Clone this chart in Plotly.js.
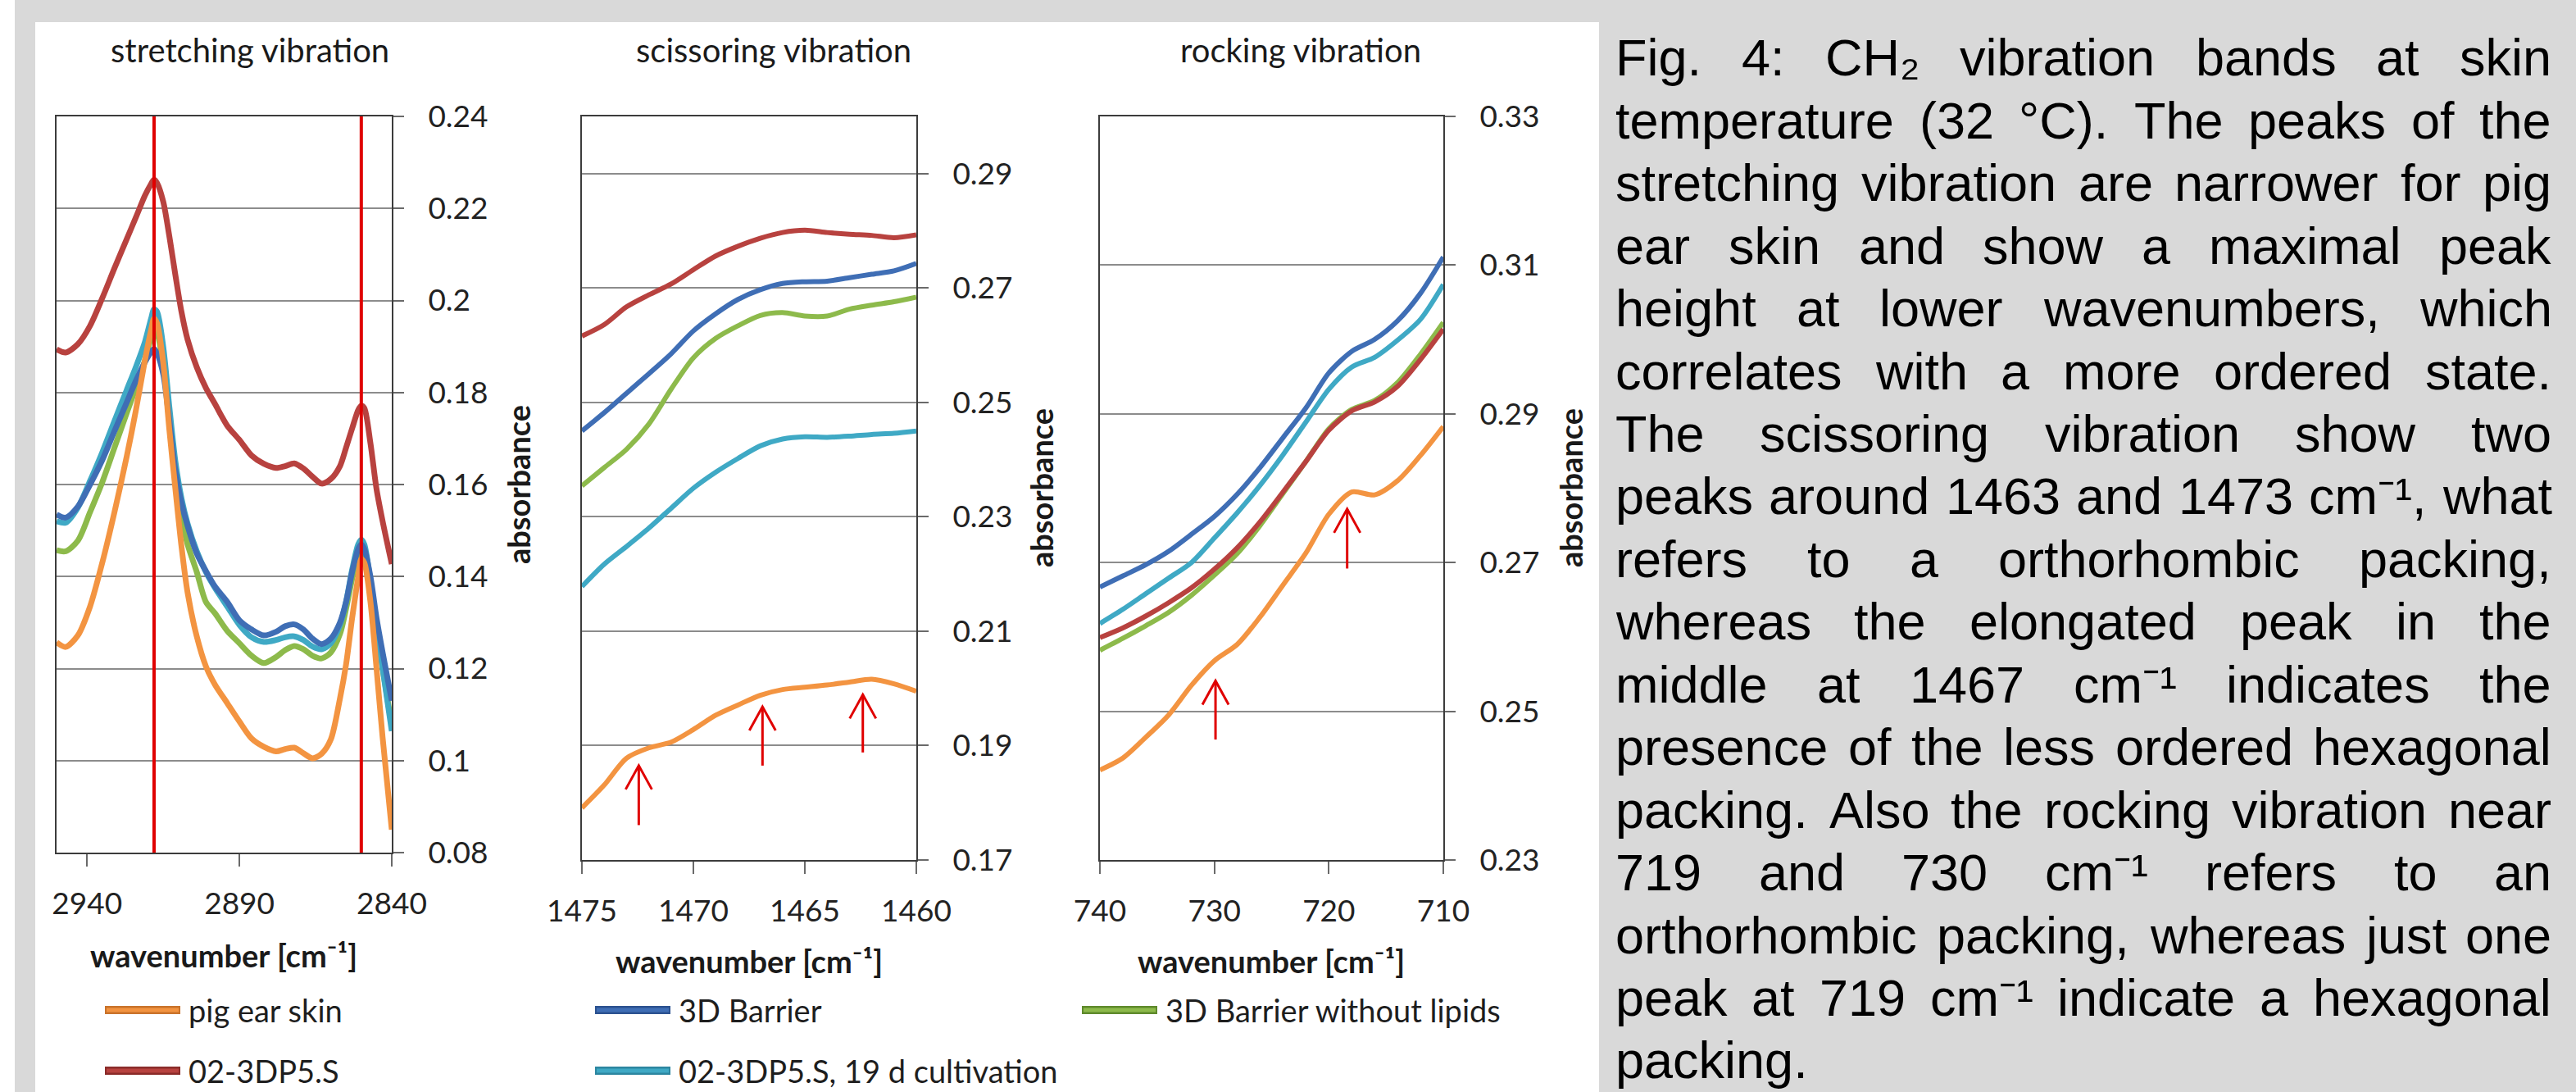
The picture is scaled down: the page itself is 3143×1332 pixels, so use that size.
<!DOCTYPE html>
<html><head><meta charset="utf-8">
<script src="https://cdn.plot.ly/plotly-3.0.1.min.js"></script>
<style>html,body{margin:0;padding:0;background:#d9d9d9;overflow:hidden}#chart{width:3143px;height:1332px}</style>
</head><body><div id="chart"></div>
<script>
// ================= DATA =================
const seriesNames = {
  pig: 'pig ear skin',
  p02: '02-3DP5.S',
  barrier: '3D Barrier',
  p19: '02-3DP5.S, 19 d cultivation',
  nolip: '3D Barrier without lipids'
};
const panelTitles = ['stretching vibration', 'scissoring vibration', 'rocking vibration'];
const xTitle = 'wavenumber [cm\u207B\u00B9]';
const yTitle = 'absorbance';

// stretching vibration (cm-1)
const stretchWavenumber = [2950,2947,2943,2939,2935,2931,2927,2924,2921,2919,2918,2917,2915,2913,2911,2909,2907,2904,2901,2898,2894,2890,2886,2882,2878,2875,2872,2869,2866,2863,2860,2857,2855,2853,2851,2850,2849,2847,2845,2843,2840];
const stretchPig     = [0.1257,0.1247,0.1272,0.1335,0.1430,0.1540,0.1660,0.1760,0.1870,0.1935,0.1961,0.1950,0.1865,0.1720,0.1590,0.1465,0.1365,0.1270,0.1205,0.1165,0.1125,0.1085,0.1048,0.1030,0.1020,0.1025,0.1028,0.1016,0.1005,0.1015,0.1046,0.1135,0.1209,0.1310,0.1400,0.1438,0.1430,0.1345,0.1200,0.1050,0.0850];
const stretch02      = [0.1894,0.1887,0.1905,0.1945,0.2005,0.2070,0.2133,0.2180,0.2228,0.2253,0.2263,0.2255,0.2215,0.2140,0.2055,0.1975,0.1915,0.1855,0.1810,0.1775,0.1728,0.1697,0.1663,0.1645,0.1636,0.1640,0.1646,0.1635,0.1617,0.1602,0.1612,0.1640,0.1680,0.1722,0.1762,0.1771,0.1766,0.1690,0.1590,0.1520,0.1427];
const stretchBarrier = [0.1535,0.1528,0.1552,0.1600,0.1653,0.1716,0.1778,0.1825,0.1866,0.1888,0.1895,0.1885,0.1840,0.1740,0.1630,0.1560,0.1510,0.1450,0.1412,0.1378,0.1345,0.1305,0.1285,0.1272,0.1280,0.1292,0.1296,0.1285,0.1265,0.1253,0.1265,0.1300,0.1345,0.1410,0.1460,0.1470,0.1460,0.1400,0.1310,0.1235,0.1130];
const stretch19d     = [0.1520,0.1517,0.1550,0.1608,0.1670,0.1738,0.1805,0.1855,0.1910,0.1960,0.1981,0.1975,0.1900,0.1770,0.1650,0.1570,0.1515,0.1455,0.1410,0.1375,0.1335,0.1295,0.1268,0.1258,0.1262,0.1268,0.1270,0.1262,0.1248,0.1242,0.1255,0.1295,0.1345,0.1415,0.1470,0.1480,0.1470,0.1390,0.1290,0.1200,0.1064];
const stretchNoLip   = [0.1457,0.1455,0.1478,0.1540,0.1605,0.1680,0.1755,0.1810,0.1870,0.1920,0.1940,0.1930,0.1860,0.1740,0.1620,0.1530,0.1470,0.1410,0.1345,0.1320,0.1282,0.1255,0.1228,0.1212,0.1225,0.1240,0.1249,0.1242,0.1228,0.1222,0.1235,0.1275,0.1330,0.1395,0.1450,0.1460,0.1450,0.1380,0.1290,0.1200,0.1075];
const stretchMarkerLines = [2918, 2850];

// scissoring vibration (cm-1)
const scissWavenumber = [1475,1474,1473,1472,1471,1470,1469,1468,1467,1466,1465,1464,1463,1462,1461,1460];
const scissPig     = [0.1791,0.1831,0.1878,0.1896,0.1906,0.1928,0.1953,0.1971,0.1988,0.1998,0.2002,0.2006,0.2011,0.2016,0.2008,0.1995];
const sciss02      = [0.2616,0.2636,0.2667,0.2688,0.2707,0.2732,0.2756,0.2773,0.2787,0.2797,0.2801,0.2797,0.2794,0.2792,0.2788,0.2793];
const scissBarrier = [0.2450,0.2482,0.2516,0.2550,0.2585,0.2625,0.2655,0.2680,0.2697,0.2708,0.2711,0.2712,0.2718,0.2724,0.2730,0.2743];
const sciss19d     = [0.2178,0.2217,0.2248,0.2280,0.2315,0.2350,0.2378,0.2402,0.2424,0.2436,0.2440,0.2439,0.2441,0.2444,0.2446,0.2450];
const scissNoLip   = [0.2354,0.2386,0.2418,0.2462,0.2523,0.2578,0.2612,0.2634,0.2652,0.2657,0.2651,0.2651,0.2663,0.2670,0.2676,0.2684];
const scissArrowWavenumber = [1472.45, 1466.9, 1462.4];
const scissArrowTail = [0.1761, 0.1865, 0.1888];
const scissArrowHead = [0.1865, 0.1968, 0.1989];

// rocking vibration (cm-1)
const rockWavenumber = [740,738,736,734,732,730,728,726,724,722,720,718,716,714,712,710];
const rockPig     = [0.2421,0.2437,0.2465,0.2495,0.2535,0.2568,0.2590,0.2627,0.2670,0.2713,0.2765,0.2795,0.2791,0.2810,0.2844,0.2883];
const rock02      = [0.2599,0.2612,0.2628,0.2646,0.2666,0.2691,0.2720,0.2755,0.2795,0.2836,0.2878,0.2904,0.2916,0.2937,0.2973,0.3014];
const rockBarrier = [0.2667,0.2682,0.2697,0.2715,0.2738,0.2762,0.2792,0.2828,0.2868,0.2908,0.2955,0.2984,0.3000,0.3025,0.3062,0.3111];
const rock19d     = [0.2618,0.2637,0.2658,0.2679,0.2700,0.2733,0.2767,0.2804,0.2845,0.2889,0.2933,0.2963,0.2976,0.2999,0.3027,0.3074];
const rockNoLip   = [0.2582,0.2598,0.2615,0.2633,0.2656,0.2683,0.2712,0.2750,0.2793,0.2836,0.2880,0.2906,0.2918,0.2942,0.2980,0.3023];
const rockArrowWavenumber = [729.9, 718.4];
const rockArrowTail = [0.2462, 0.2692];
const rockArrowHead = [0.2541, 0.2772];

// caption text
const captionLines = [
  'Fig. 4: CH\u2082 vibration bands at skin',
  'temperature (32 °C). The peaks of the',
  'stretching vibration are narrower for pig',
  'ear skin and show a maximal peak',
  'height at lower wavenumbers, which',
  'correlates with a more ordered state.',
  'The scissoring vibration show two',
  'peaks around 1463 and 1473 cm\u207B\u00B9, what',
  'refers to a orthorhombic packing,',
  'whereas the elongated peak in the',
  'middle at 1467 cm\u207B\u00B9 indicates the',
  'presence of the less ordered hexagonal',
  'packing. Also the rocking vibration near',
  '719 and 730 cm\u207B\u00B9 refers to an',
  'orthorhombic packing, whereas just one',
  'peak at 719 cm\u207B\u00B9 indicate a hexagonal',
  'packing.'
];

// ================= STYLE / LAYOUT =================
const W = 3143, H = 1332;
const fx = x => x / W, fy = y => 1 - y / H;
const FONT = 'Lato, "Open Sans", sans-serif';
const colors = {pig:'#F39441', p02:'#B8423F', barrier:'#3F6EB5', p19:'#3FA9C5', nolip:'#8DBA4B'};
const darkColors = {pig:'#C9732B', p02:'#8A2B29', barrier:'#2C5290', p19:'#2C86A0', nolip:'#5F8A2C'};
const drawOrder = ['nolip', 'p19', 'barrier', 'p02', 'pig'];

const panels = [
  {xa:'x',  ya:'y',  x: stretchWavenumber, ys:{pig:stretchPig, p02:stretch02, barrier:stretchBarrier, p19:stretch19d, nolip:stretchNoLip}, lw:7},
  {xa:'x2', ya:'y2', x: scissWavenumber,   ys:{pig:scissPig,   p02:sciss02,   barrier:scissBarrier,   p19:sciss19d,   nolip:scissNoLip},   lw:6},
  {xa:'x3', ya:'y3', x: rockWavenumber,    ys:{pig:rockPig,    p02:rock02,    barrier:rockBarrier,    p19:rock19d,    nolip:rockNoLip},    lw:6}
];

const traces = [];
panels.forEach(p => {
  drawOrder.forEach(k => {
    traces.push({
      type:'scatter', mode:'lines', name: seriesNames[k], legendgroup:k, showlegend:false,
      x: p.x, y: p.ys[k], xaxis:p.xa, yaxis:p.ya,
      line:{color: colors[k], width: p.lw, shape:'spline', smoothing:0.8}
    });
  });
});

const tickFont = {family: FONT, size: 37, color:'#222222'};
const axCommon = {
  showline:true, mirror:true, linecolor:'#3c3c3c', linewidth:2,
  ticks:'outside', tickcolor:'#6a6a6a', tickwidth:2, tickfont: tickFont,
  fixedrange:true, zeroline:false
};
const xCommon = Object.assign({}, axCommon, {showgrid:false, ticklen:15, ticklabelstandoff:14, tickmode:'linear'});
const yCommon = Object.assign({}, axCommon, {showgrid:true, gridcolor:'#8c8c8c', gridwidth:2, side:'right', ticklen:13, ticklabelstandoff:22, tickmode:'linear', dtick:0.02});

const layout = {
  width: W, height: H,
  margin: {l:0, r:0, t:0, b:0},
  paper_bgcolor:'#d9d9d9', plot_bgcolor:'#ffffff',
  showlegend:false,
  font:{family: FONT, color:'#1e1e1e'},
  xaxis:  Object.assign({}, xCommon, {domain:[fx(69), fx(478)],   range:[2950, 2840], tick0:2840, dtick:50, anchor:'y'}),
  yaxis:  Object.assign({}, yCommon, {domain:[fy(1040), fy(142)], range:[0.08, 0.24], tick0:0.08, anchor:'x'}),
  xaxis2: Object.assign({}, xCommon, {domain:[fx(710), fx(1118)],  range:[1475, 1460], tick0:1460, dtick:5, anchor:'y2'}),
  yaxis2: Object.assign({}, yCommon, {domain:[fy(1049), fy(142)], range:[0.17, 0.30], tick0:0.17, anchor:'x2'}),
  xaxis3: Object.assign({}, xCommon, {domain:[fx(1342), fx(1761)], range:[740, 710], tick0:710, dtick:10, anchor:'y3'}),
  yaxis3: Object.assign({}, yCommon, {domain:[fy(1049), fy(142)], range:[0.23, 0.33], tick0:0.23, anchor:'x3'}),
  shapes: [],
  annotations: []
};

// white chart area + left white strip
layout.shapes.push({type:'rect', xref:'paper', yref:'paper', layer:'below', x0:fx(43), x1:fx(1951), y0:0, y1:fy(27), fillcolor:'#ffffff', line:{width:0}});
layout.shapes.push({type:'rect', xref:'paper', yref:'paper', layer:'below', x0:0, x1:fx(18), y0:0, y1:1, fillcolor:'#ffffff', line:{width:0}});

// red marker lines in stretching panel
stretchMarkerLines.forEach(w => {
  layout.shapes.push({type:'line', xref:'x', yref:'y domain', x0:w, x1:w, y0:0, y1:1, line:{color:'#E00000', width:4}});
});

// red arrows (shaft + open V head), head size given in pixels and converted to data units
function perPx(ax, len) { return Math.abs(ax.range[1] - ax.range[0]) / ((ax.domain[1] - ax.domain[0]) * len); }
function addArrows(xs, tails, heads, xr, yr, xAxis, yAxis) {
  const dx = 16 * perPx(xAxis, W), dy = 29 * perPx(yAxis, H);
  xs.forEach((w, i) => {
    const h = heads[i];
    layout.shapes.push({type:'line', xref:xr, yref:yr, x0:w, x1:w, y0:tails[i], y1:h, line:{color:'#E00000', width:3}});
    layout.shapes.push({type:'path', xref:xr, yref:yr,
      path:'M' + (w - dx) + ',' + (h - dy) + ' L' + w + ',' + h + ' L' + (w + dx) + ',' + (h - dy),
      line:{color:'#E00000', width:3}});
  });
}
addArrows(scissArrowWavenumber, scissArrowTail, scissArrowHead, 'x2', 'y2', layout.xaxis2, layout.yaxis2);
addArrows(rockArrowWavenumber, rockArrowTail, rockArrowHead, 'x3', 'y3', layout.xaxis3, layout.yaxis3);

// panel titles, axis titles
const titlePos = [[305, 61], [944, 61], [1587, 61]];
const xTitlePos = [[273, 1165], [914, 1172], [1551, 1172]];
const yTitlePos = [[632, 591], [1270, 595], [1916, 595]];
panelTitles.forEach((t, i) => {
  layout.annotations.push({xref:'paper', yref:'paper', x:fx(titlePos[i][0]), y:fy(titlePos[i][1]), text:t, showarrow:false,
    xanchor:'center', yanchor:'middle', font:{family:FONT, size:40, color:'#1a1a1a'}});
  layout.annotations.push({xref:'paper', yref:'paper', x:fx(xTitlePos[i][0]), y:fy(xTitlePos[i][1]), text:xTitle, showarrow:false,
    xanchor:'center', yanchor:'middle', font:{family:FONT, size:38, color:'#1a1a1a', weight:'bold'}});
  layout.annotations.push({xref:'paper', yref:'paper', x:fx(yTitlePos[i][0]), y:fy(yTitlePos[i][1]), text:yTitle, showarrow:false,
    textangle:-90, xanchor:'center', yanchor:'middle', font:{family:FONT, size:38, color:'#1a1a1a', weight:'bold'}});
});

// manual legend (3 columns x 2 rows as in the reference)
const legendItems = [
  {k:'pig', x:128, y:1232}, {k:'barrier', x:726, y:1232}, {k:'nolip', x:1320, y:1232},
  {k:'p02', x:128, y:1306}, {k:'p19', x:726, y:1306}
];
legendItems.forEach(it => {
  layout.shapes.push({type:'line', xref:'paper', yref:'paper', x0:fx(it.x), x1:fx(it.x+92), y0:fy(it.y), y1:fy(it.y), line:{color:darkColors[it.k], width:10}});
  layout.shapes.push({type:'line', xref:'paper', yref:'paper', x0:fx(it.x+2), x1:fx(it.x+90), y0:fy(it.y), y1:fy(it.y), line:{color:colors[it.k], width:5}});
  layout.annotations.push({xref:'paper', yref:'paper', x:fx(it.x+100), y:fy(it.y), text:seriesNames[it.k], showarrow:false,
    xanchor:'left', yanchor:'middle', font:{family:FONT, size:38, color:'#1e1e1e'}});
});

// justified caption on the right
const capFamily = '"Liberation Sans", Arial, sans-serif';
const capSize = 63, capLeft = 1971, capRight = 3113, capBase0 = 92, capStep = 76.44;
const ctx = document.createElement('canvas').getContext('2d');
ctx.font = capSize + 'px ' + capFamily;
const measure = w => ctx.measureText(w).width;
const spaceW = measure(' ');
captionLines.forEach((line, i) => {
  const words = line.split(' ');
  const widths = words.map(measure);
  const sum = widths.reduce((a, b) => a + b, 0);
  const isLast = i === captionLines.length - 1;
  const gap = (isLast || words.length < 2) ? spaceW : (capRight - capLeft - sum) / (words.length - 1);
  const base = capBase0 + i * capStep;
  let xpos = capLeft;
  words.forEach((w, j) => {
    layout.annotations.push({xref:'paper', yref:'paper', x:fx(xpos), y:fy(base + 0.212 * capSize),
      xanchor:'left', yanchor:'bottom', text:w, showarrow:false, borderpad:0, borderwidth:0,
      font:{family:capFamily, size:capSize, color:'#000000'}});
    xpos += widths[j] + gap;
  });
});

Plotly.newPlot('chart', traces, layout, {displayModeBar:false, staticPlot:true});
</script>
</body></html>
